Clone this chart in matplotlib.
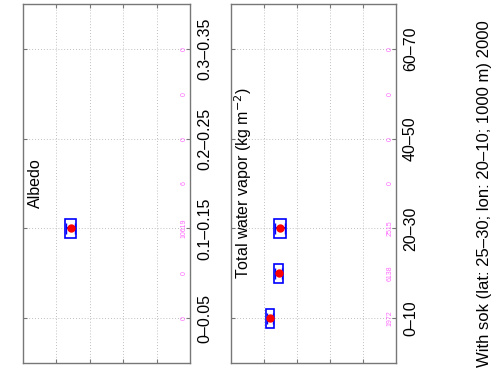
import matplotlib
matplotlib.use('Agg')
import matplotlib.pyplot as plt

plt.rcParams['font.family'] = ['Liberation Sans', 'DejaVu Sans']

# Albedo bins (upper panel, drawn rotated)
albedo_bins = ['0–0.05', '0.05–0.1', '0.1–0.15', '0.15–0.2', '0.2–0.25', '0.25–0.3', '0.3–0.35']
albedo_counts = [0, 0, 10619, 6, 0, 0, 0]
albedo_box_idx = [2]
albedo_q1 = [1.25]
albedo_q3 = [1.60]
albedo_wlo = [1.30]
albedo_whi = [1.55]
albedo_mean = [1.43]

# Total water vapor bins (lower panel)
wv_bins = ['0–10', '10–20', '20–30', '30–40', '40–50', '50–60', '60–70']
wv_counts = [1972, 6138, 2515, 0, 0, 0, 0]
wv_box_idx = [0, 1, 2]
wv_q1 = [1.06, 1.30, 1.30]
wv_q3 = [1.30, 1.58, 1.67]
wv_wlo = [1.09, 1.34, 1.34]
wv_whi = [1.27, 1.54, 1.63]
wv_mean = [1.18, 1.45, 1.48]

title = 'With sok (lat: 25–30; lon: 20–10; 1000 m) 2000'

fig = plt.figure(figsize=(4.92, 3.75), dpi=100)
ax1 = fig.add_axes([23/492, 12/375, 167/492, 359/375])
ax2 = fig.add_axes([231/492, 12/375, 165/492, 359/375])


def panel(ax, bins, counts, idx, q1, q3, wlo, whi, mean, label):
    # boxes
    ax.barh(idx, [b - a for a, b in zip(q1, q3)], left=q1, height=0.42,
            fill=False, edgecolor='#0000ff', linewidth=1.2, zorder=3)
    ax.hlines(idx, wlo, whi, color='#0000ff', linewidth=1.5, zorder=3)
    ax.vlines(wlo, [i - 0.12 for i in idx], [i + 0.12 for i in idx], color='#0000ff', linewidth=1.0, zorder=3)
    ax.vlines(whi, [i - 0.12 for i in idx], [i + 0.12 for i in idx], color='#0000ff', linewidth=1.0, zorder=3)
    ax.plot(mean, idx, 'o', color='#ff0000', markersize=5, zorder=4)
    # counts per bin
    for i, c in enumerate(counts):
        ax.text(0.965, i, str(c), transform=ax.get_yaxis_transform(), rotation=90,
                ha='center', va='center', fontsize=5, color='#ff66ff')
    ax.set_xlim(0, 5)
    ax.set_ylim(-1, 7)
    ax.set_xticks([1, 2, 3, 4])
    ax.set_yticks(range(0, 7, 2))
    ax.set_yticklabels(bins[::2], rotation=90, va='center', fontsize=11.5)
    ax.tick_params(axis='x', labelbottom=False, direction='in', length=3,
                   top=True, bottom=True, color='#777777')
    ax.tick_params(axis='y', labelleft=False, labelright=True, direction='in', length=3,
                   left=True, right=True, pad=5, color='#777777')
    ax.grid(True, linestyle=(0, (1, 2.5)), color='#aaaaaa', linewidth=0.6)
    for s in ax.spines.values():
        s.set_color('#777777')
        s.set_linewidth(1.0)
    ax.text(0.072, 0.5, label, transform=ax.transAxes, rotation=90,
            ha='center', va='center', fontsize=11.5)


panel(ax1, albedo_bins, albedo_counts, albedo_box_idx, albedo_q1, albedo_q3,
      albedo_wlo, albedo_whi, albedo_mean, 'Albedo')
panel(ax2, wv_bins, wv_counts, wv_box_idx, wv_q1, wv_q3,
      wv_wlo, wv_whi, wv_mean, 'Total water vapor (kg m$^{-2}$)')

# overall title, rotated like the rest of the figure
fig.text(484/492, 0.483, title, rotation=90, ha='center', va='center', fontsize=12)

fig.savefig('out.png', dpi=100)
